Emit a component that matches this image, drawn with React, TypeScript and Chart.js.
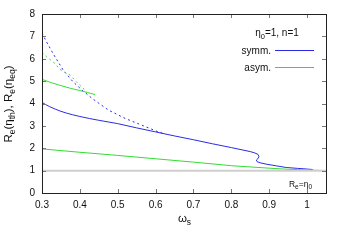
import React, { useEffect, useRef } from "react";
import { Chart, registerables } from "chart.js";

Chart.register(...registerables);

// ---- data ----
const symmSolidOmega = [0.3, 0.31, 0.32, 0.335, 0.35, 0.365, 0.38, 0.4, 0.425, 0.45, 0.5, 0.55, 0.6, 0.65, 0.7, 0.75, 0.8, 0.85, 0.862, 0.870, 0.873, 0.870, 0.866, 0.868, 0.876, 0.892, 0.92, 0.945, 0.975, 1.0, 1.015];
const symmSolidR = [4.05, 3.95, 3.86, 3.75, 3.65, 3.57, 3.50, 3.42, 3.33, 3.25, 3.10, 2.91, 2.73, 2.55, 2.38, 2.20, 2.03, 1.85, 1.79, 1.73, 1.63, 1.53, 1.47, 1.40, 1.35, 1.29, 1.21, 1.14, 1.10, 1.07, 1.05];

const symmDashOmega = [0.3, 0.315, 0.329, 0.356, 0.382, 0.409, 0.436, 0.476, 0.52, 0.564, 0.6, 0.62];
const symmDashR = [7.14, 6.66, 6.24, 5.49, 4.97, 4.55, 4.18, 3.70, 3.33, 3.03, 2.78, 2.66];

const asymUpperOmega = [0.3, 0.325, 0.35, 0.375, 0.4, 0.42, 0.44];
const asymUpperR = [5.08, 4.93, 4.80, 4.68, 4.58, 4.49, 4.40];

const asymDashOmega = [0.3, 0.312, 0.334, 0.347, 0.374, 0.391, 0.418];
const asymDashR = [6.29, 6.09, 5.79, 5.53, 5.27, 4.97, 4.52];

const asymLowerOmega = [0.3, 0.4, 0.5, 0.6, 0.7, 0.8, 0.9, 0.95, 1.0, 1.05];
const asymLowerR = [1.97, 1.82, 1.68, 1.53, 1.38, 1.22, 1.11, 1.06, 1.03, 1.0];

const refOmega = [0.3, 1.05];
const refR = [1, 1];

const xTicks = [0.3, 0.4, 0.5, 0.6, 0.7, 0.8, 0.9, 1.0];
const yTicks = [0, 1, 2, 3, 4, 5, 6, 7, 8];

const BLUE = "#2a2ae6";
const GREEN = "#33dd33";
const FONT = "'Liberation Sans', Arial, Helvetica, sans-serif";

const pts = (xs: number[], ys: number[]) => xs.map((x, i) => ({ x, y: ys[i] }));

type Seg = { t: string; sub?: boolean };

function richWidth(ctx: CanvasRenderingContext2D, segs: Seg[], size: number, subSize: number) {
  let w = 0;
  for (const s of segs) {
    ctx.font = `${s.sub ? subSize : size}px ${FONT}`;
    w += ctx.measureText(s.t).width;
  }
  return w;
}

function drawRich(ctx: CanvasRenderingContext2D, segs: Seg[], x: number, y: number, size: number, subSize: number, subDrop: number, align: "left" | "center" | "right") {
  const w = richWidth(ctx, segs, size, subSize);
  let cx = align === "left" ? x : align === "center" ? x - w / 2 : x - w;
  ctx.textAlign = "left";
  ctx.textBaseline = "alphabetic";
  for (const s of segs) {
    ctx.font = `${s.sub ? subSize : size}px ${FONT}`;
    ctx.fillText(s.t, cx, s.sub ? y + subDrop : y);
    cx += ctx.measureText(s.t).width;
  }
}

const framePlugin = {
  id: "gnuFrame",
  afterDatasetsDraw(chart: any) {
    const { ctx, chartArea: a, scales } = chart;
    const xs = scales.x;
    const ys = scales.y;
    ctx.save();
    // ticks (inward, mirrored)
    ctx.strokeStyle = "#777777";
    ctx.lineWidth = 1;
    ctx.beginPath();
    const tl = 4;
    for (const v of xTicks) {
      const px = Math.round(xs.getPixelForValue(v)) + 0.5;
      ctx.moveTo(px, a.bottom);
      ctx.lineTo(px, a.bottom - tl);
      ctx.moveTo(px, a.top);
      ctx.lineTo(px, a.top + tl);
    }
    for (const v of yTicks) {
      const py = Math.round(ys.getPixelForValue(v)) + 0.5;
      ctx.moveTo(a.left, py);
      ctx.lineTo(a.left + tl, py);
      ctx.moveTo(a.right, py);
      ctx.lineTo(a.right - tl, py);
    }
    ctx.stroke();
    // border
    ctx.strokeStyle = "#222222";
    ctx.lineWidth = 1;
    ctx.strokeRect(Math.round(a.left) + 0.5, Math.round(a.top) + 0.5, Math.round(a.right - a.left), Math.round(a.bottom - a.top));

    ctx.fillStyle = "#111111";
    // legend
    const titleSegs: Seg[] = [{ t: "η" }, { t: "0", sub: true }, { t: "=1, n=1" }];
    drawRich(ctx, titleSegs, 277, 36, 10, 7.5, 2.5, "center");
    ctx.font = `10px ${FONT}`;
    ctx.textAlign = "right";
    ctx.textBaseline = "middle";
    ctx.fillText("symm.", 271, 51);
    ctx.fillText("asym.", 271, 68);
    ctx.lineWidth = 1;
    ctx.strokeStyle = BLUE;
    ctx.beginPath();
    ctx.moveTo(275, 50.5);
    ctx.lineTo(314, 50.5);
    ctx.stroke();
    ctx.strokeStyle = GREEN;
    ctx.beginPath();
    ctx.moveTo(275, 67.5);
    ctx.lineTo(314, 67.5);
    ctx.stroke();

    // annotation
    ctx.fillStyle = "#111111";
    drawRich(ctx, [{ t: "R" }, { t: "e", sub: true }, { t: "=η" }, { t: "0", sub: true }], 312, 187, 8.5, 6.5, 2, "right");

    // axis titles
    drawRich(ctx, [{ t: "ω" }, { t: "s", sub: true }], 184.5, 221.5, 11.5, 8.5, 3.5, "center");
    ctx.save();
    ctx.translate(12, 104);
    ctx.rotate(-Math.PI / 2);
    drawRich(
      ctx,
      [
        { t: "R" }, { t: "e", sub: true }, { t: "(η" }, { t: "th", sub: true }, { t: "), R" },
        { t: "e", sub: true }, { t: "(η" }, { t: "eq", sub: true }, { t: ")" },
      ],
      0, 0, 11.5, 8.5, 3, "center"
    );
    ctx.restore();
    ctx.restore();
  },
};

export default function App() {
  const ref = useRef<HTMLCanvasElement | null>(null);
  useEffect(() => {
    document.body.style.margin = "0";
    const canvas = ref.current!;
    const line = (data: { x: number; y: number }[], color: string, dash: number[] = [], width = 1) => ({
      data,
      borderColor: color,
      backgroundColor: color,
      borderWidth: width,
      borderDash: dash,
      pointRadius: 0,
      showLine: true,
      tension: 0,
      fill: false,
    });
    const chart = new Chart(canvas, {
      type: "scatter",
      data: {
        datasets: [
          line(pts(refOmega, refR), "#cfcfcf", [], 2),
          line(pts(asymLowerOmega, asymLowerR), GREEN),
          line(pts(asymDashOmega, asymDashR), GREEN, [2, 3]),
          line(pts(asymUpperOmega, asymUpperR), GREEN),
          line(pts(symmDashOmega, symmDashR), BLUE, [2, 3]),
          line(pts(symmSolidOmega, symmSolidR), BLUE),
        ],
      },
      options: {
        animation: false,
        responsive: false,
        events: [],
        layout: { padding: { top: 14, right: 20, left: 0, bottom: 0 } },
        plugins: { legend: { display: false }, tooltip: { enabled: false } },
        scales: {
          x: {
            type: "linear",
            min: 0.3,
            max: 1.05,
            afterBuildTicks: (s: any) => {
              s.ticks = xTicks.map((v) => ({ value: v }));
            },
            afterFit: (s: any) => {
              s.height = 49;
            },
            grid: { display: false, drawTicks: false },
            border: { display: false },
            ticks: {
              autoSkip: false,
              maxRotation: 0,
              padding: 6,
              color: "#111111",
              font: { family: FONT, size: 10 },
              callback: (v: any) => `${+Number(v).toFixed(2)}`,
            },
          },
          y: {
            type: "linear",
            min: 0,
            max: 8,
            afterBuildTicks: (s: any) => {
              s.ticks = yTicks.map((v) => ({ value: v }));
            },
            afterFit: (s: any) => {
              s.width = 42;
            },
            grid: { display: false, drawTicks: false },
            border: { display: false },
            ticks: {
              padding: 7,
              color: "#111111",
              font: { family: FONT, size: 10 },
              callback: (v: any) => `${v}`,
            },
          },
        },
      },
      plugins: [framePlugin],
    } as any);
    return () => chart.destroy();
  }, []);
  return <canvas ref={ref} width={346} height={242} style={{ display: "block" }} />;
}
